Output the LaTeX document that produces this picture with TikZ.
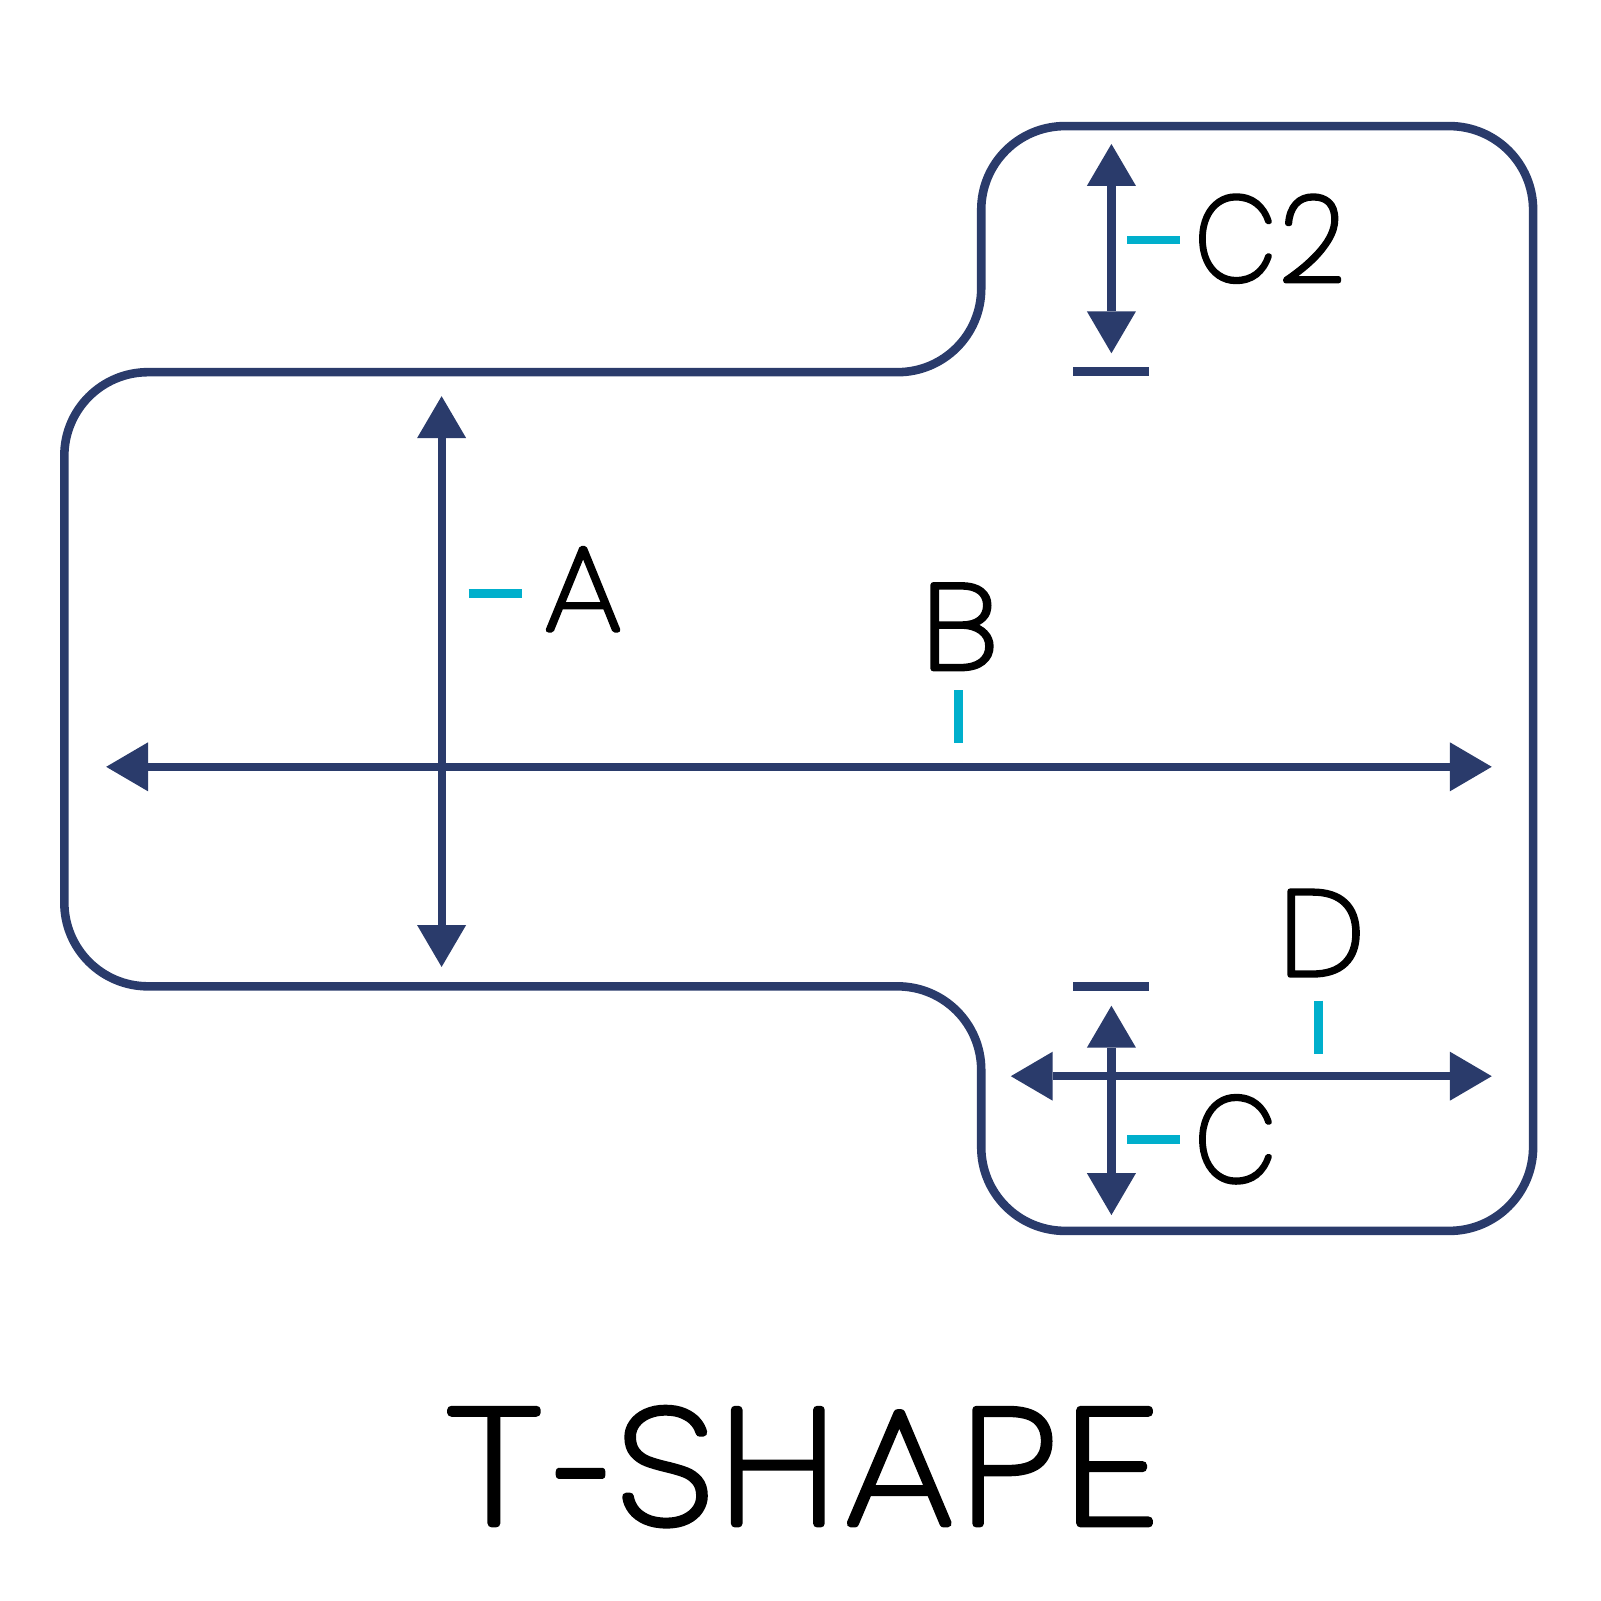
\documentclass[tikz,border=0pt]{standalone}
\usepackage{fontspec}
\newfontfamily\labfont[FakeBold=4.3]{Poppins Thin}
\newfontfamily\ttlfont[FakeBold=5,FakeStretch=1.11]{Poppins Thin}
\usetikzlibrary{arrows.meta}
\definecolor{navy}{HTML}{2A3B6B}
\definecolor{tick}{HTML}{00AFCC}
\tikzset{
  dim/.style={draw=navy,line width=4pt,{Triangle[length=20.5pt,width=24pt,line width=0pt,fill=navy]}-{Triangle[length=20.5pt,width=24pt,line width=0pt,fill=navy]}},
  outline/.style={draw=navy,line width=4.2pt,rounded corners=41pt},
  bar/.style={draw=navy,line width=4.4pt},
  ticks/.style={draw=tick,line width=4.3pt},
  lab/.style={inner sep=0pt,anchor=base west,font=\pgfsetroundjoin\labfont\fontsize{58.5}{60}\selectfont,text=black},
  ttl/.style={inner sep=0pt,anchor=base west,font=\pgfsetroundjoin\ttlfont\fontsize{79}{84}\selectfont,text=black}
}
\begin{document}
\begin{tikzpicture}[x=0.5pt,y=-0.5pt]
\useasboundingbox (0,0) rectangle (1568,1568);
% outline
\draw[outline] (63,364.5) -- (961,364.5) -- (961,123.5) -- (1501.5,123.5) -- (1501.5,1205.5) -- (961,1205.5) -- (961,966) -- (63,966) -- cycle;
% dimension ends
\coordinate (a1) at (432.5,388); \coordinate (a2) at (432.5,947);
\coordinate (b1) at (104,751);  \coordinate (b2) at (1461,751);
\coordinate (c1) at (1088.5,141); \coordinate (c2) at (1088.5,346);
\coordinate (d1) at (1088.5,985); \coordinate (d2) at (1088.5,1190);
\coordinate (e1) at (990,1054); \coordinate (e2) at (1461,1054);
\draw[dim] (a1) -- (a2);
\draw[dim] (b1) -- (b2);
\draw[dim] (c1) -- (c2);
\draw[dim] (d1) -- (d2);
\draw[dim] (e1) -- (e2);
% bars
\coordinate (p1) at (1051,364); \coordinate (p2) at (1125,364);
\coordinate (q1) at (1051,966); \coordinate (q2) at (1125,966);
\draw[bar] (p1) -- (p2);
\draw[bar] (q1) -- (q2);
% ticks
\coordinate (t1) at (459,581);  \coordinate (t2) at (511,581);
\coordinate (t3) at (939,676);  \coordinate (t4) at (939,728);
\coordinate (t5) at (1104,235); \coordinate (t6) at (1156,235);
\coordinate (t7) at (1291,980); \coordinate (t8) at (1291,1032);
\coordinate (t9) at (1104,1116);\coordinate (t10) at (1156,1116);
\draw[ticks] (t1) -- (t2);
\draw[ticks] (t3) -- (t4);
\draw[ticks] (t5) -- (t6);
\draw[ticks] (t7) -- (t8);
\draw[ticks] (t9) -- (t10);
% labels
\node[lab] (la) at (533,617) {\scalebox{1.07}[1]{A}};
\node[lab] (lb) at (902.5,655) {\scalebox{1.13}[1]{B}};
\node[lab] (lc2) at (1170,275) {\scalebox{.88}[1]{C}\kern2pt\scalebox{.95}[1]{2}};
\node[lab] (ld) at (1253,955) {\scalebox{1.01}[1]{D}};
\node[lab] (lc) at (1170,1157) {\scalebox{.88}[1]{C}};
\node[ttl] (title) at (438,1492) {\scalebox{1.1}[1]{T}\kern11pt\raisebox{-5.5pt}{\scalebox{.68}[1]{-}}\kern0pt S\kern3.5pt H\kern4.5pt A\kern4pt P\kern4pt\scalebox{1.1}[1]{E}};
\end{tikzpicture}
\end{document}
